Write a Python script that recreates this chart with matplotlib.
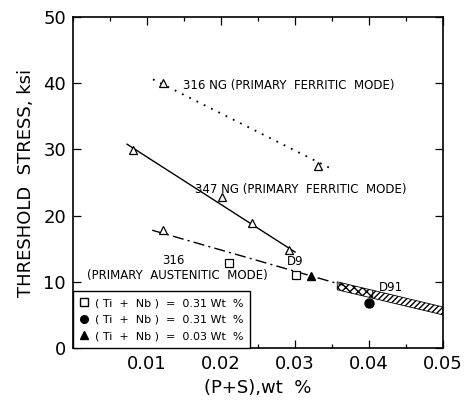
import matplotlib
matplotlib.use("Agg")
import matplotlib.pyplot as plt
from matplotlib.lines import Line2D
from matplotlib.ticker import MultipleLocator

# ---- data ----
ng316_x = [0.0122, 0.0331]
ng316_y = [40.0, 27.5]
ng316_line_x = [0.0108, 0.0347]
ng316_line_y = [40.6, 27.2]

ng347_x = [0.0081, 0.0201, 0.0242, 0.0292]
ng347_y = [29.9, 22.8, 18.9, 14.8]
ng347_line_x = [0.0073, 0.0300]
ng347_line_y = [30.8, 14.5]

aus316_x = [0.0122]
aus316_y = [17.8]
aus316_line_x = [0.0107, 0.0365]
aus316_line_y = [17.8, 9.5]

sq_x = [0.0211, 0.0301]
sq_y = [12.8, 11.0]
circ_x = [0.0400]
circ_y = [6.8]
tri_x = [0.0321]
tri_y = [10.9]

band_x = [0.0357, 0.0500]
band_upper = [10.0, 6.2]
band_lower = [8.8, 5.0]
band_split = 0.0405

legend_labels = ["( Ti  +  Nb )  =  0.31 Wt  %", "( Ti  +  Nb )  =  0.31 Wt  %", "( Ti  +  Nb )  =  0.03 Wt  %"]
x_ticks = [0.01, 0.02, 0.03, 0.04, 0.05]
x_ticklabels = ["0.01", "0.02", "0.03", "0.04", "0.05"]
y_ticks = [0, 10, 20, 30, 40, 50]

fig = plt.figure(figsize=(4.69, 4.05), dpi=100)
ax = fig.add_axes([0.1557, 0.1407, 0.789, 0.817])

# hatched D91 band
def band_at(x):
    t = (x - band_x[0]) / (band_x[1] - band_x[0])
    return (band_upper[0] + t * (band_upper[1] - band_upper[0]),
            band_lower[0] + t * (band_lower[1] - band_lower[0]))
u_s, l_s = band_at(band_split)
ax.fill_between([band_x[0], band_split], [band_upper[0], u_s], [band_lower[0], l_s],
                facecolor="white", edgecolor="black", hatch="xxxx", linewidth=0.6, zorder=2)
ax.fill_between([band_split, band_x[1]], [u_s, band_upper[1]], [l_s, band_lower[1]],
                facecolor="white", edgecolor="black", hatch="//////", linewidth=0.6, zorder=2)

# lines
ax.plot(ng316_line_x, ng316_line_y, color="black", linestyle=(0, (1, 3.5)), linewidth=1.3, zorder=3)
ax.plot(ng347_line_x, ng347_line_y, color="black", linestyle="-", linewidth=1.0, zorder=3)
ax.plot(aus316_line_x, aus316_line_y, color="black", linestyle=(0, (8, 3, 1.5, 3)), linewidth=1.0, zorder=3)

# markers
tri_kw = dict(marker="^", markersize=6, markerfacecolor="white", markeredgecolor="black",
              markeredgewidth=0.9, linestyle="none", zorder=4)
ax.plot(ng316_x, ng316_y, **tri_kw)
ax.plot(ng347_x, ng347_y, **tri_kw)
ax.plot(aus316_x, aus316_y, **tri_kw)
ax.plot(sq_x, sq_y, marker="s", markersize=6, markerfacecolor="white", markeredgecolor="black",
        markeredgewidth=0.9, linestyle="none", zorder=4)
ax.plot(circ_x, circ_y, marker="o", markersize=6.5, color="black", linestyle="none", zorder=4)
ax.plot(tri_x, tri_y, marker="^", markersize=6, color="black", linestyle="none", zorder=4)

# annotations
tfs = 8.5
ax.text(0.0148, 39.7, "316 NG (PRIMARY  FERRITIC  MODE)", fontsize=tfs, va="center", ha="left")
ax.text(0.0165, 23.9, "347 NG (PRIMARY  FERRITIC  MODE)", fontsize=tfs, va="center", ha="left")
ax.text(0.0135, 13.2, "316", fontsize=tfs, va="center", ha="center")
ax.text(0.0019, 11.0, "(PRIMARY  AUSTENITIC  MODE)", fontsize=tfs, va="center", ha="left")
ax.text(0.0300, 13.1, "D9", fontsize=tfs, va="center", ha="center")
ax.text(0.0429, 9.2, "D91", fontsize=tfs, va="center", ha="center")

# legend
handles = [
    Line2D([], [], marker="s", markersize=5.5, markerfacecolor="white", markeredgecolor="black", linestyle="none"),
    Line2D([], [], marker="o", markersize=5.5, color="black", linestyle="none"),
    Line2D([], [], marker="^", markersize=5.5, color="black", linestyle="none"),
]
leg = ax.legend(handles, legend_labels, loc="lower left", bbox_to_anchor=(0, 0),
                borderaxespad=0, fontsize=8, frameon=True, fancybox=False,
                handlelength=0.8, handletextpad=0.6, labelspacing=0.6,
                borderpad=0.6)
leg.get_frame().set_edgecolor("black")
leg.get_frame().set_linewidth(1.0)
leg.get_frame().set_alpha(1)
leg.set_zorder(5)

# axes
ax.set_xlim(0, 0.05)
ax.set_ylim(0, 50)
ax.set_xticks(x_ticks)
ax.set_xticklabels(x_ticklabels)
ax.set_yticks(y_ticks)
ax.xaxis.set_minor_locator(MultipleLocator(0.005))
ax.tick_params(axis="both", which="both", direction="in", top=True, right=True,
               labelsize=13, width=0.9)
ax.tick_params(axis="both", which="major", length=6, pad=5)
ax.tick_params(axis="both", which="minor", length=3)
for s in ax.spines.values():
    s.set_linewidth(1.2)
ax.set_xlabel("(P+S),wt  %", fontsize=13, labelpad=4)
ax.set_ylabel("THRESHOLD  STRESS, ksi", fontsize=13, labelpad=6)

fig.savefig("out.png", dpi=100)
